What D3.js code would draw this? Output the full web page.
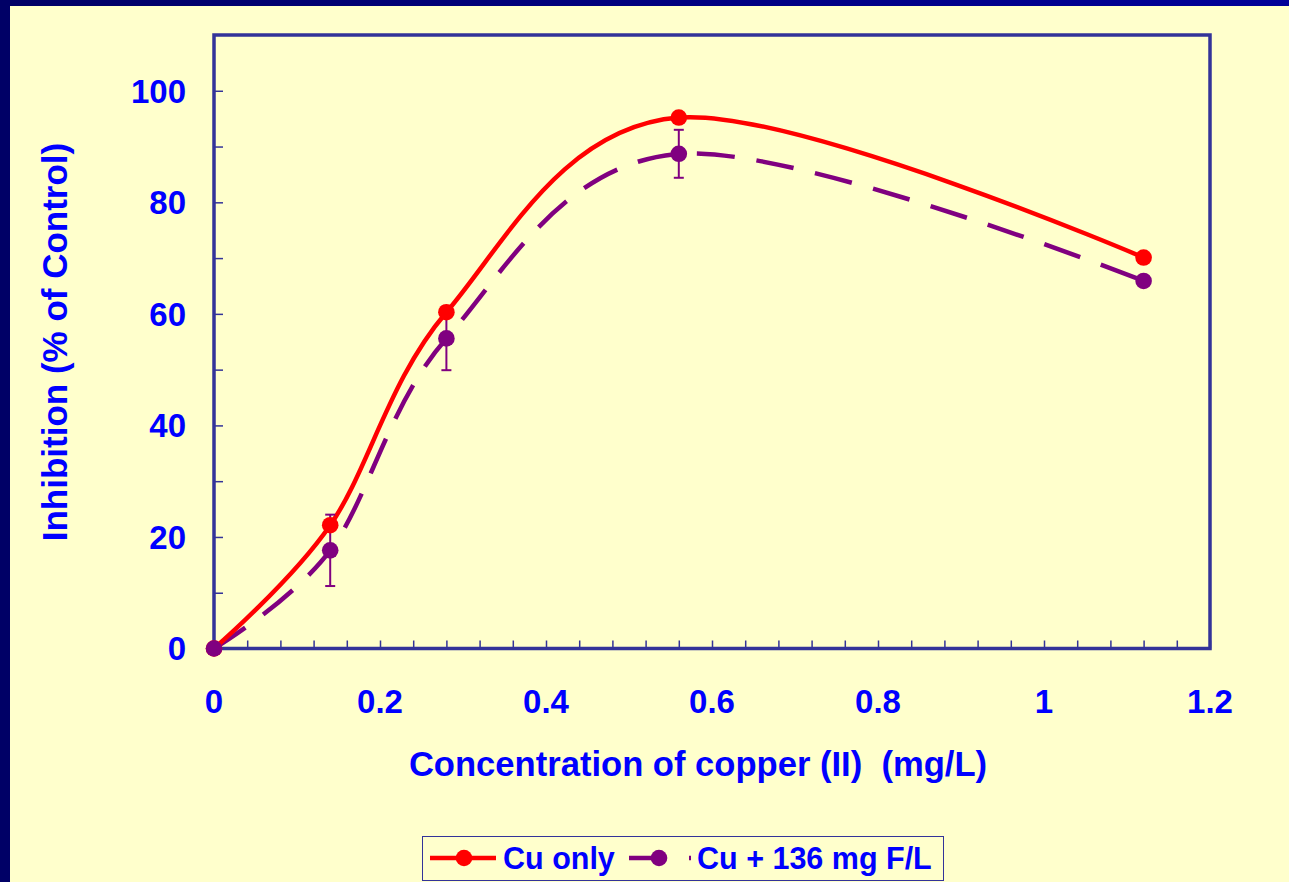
<!DOCTYPE html>
<html>
<head>
<meta charset="utf-8">
<script src="https://cdn.jsdelivr.net/npm/d3@7"></script>
<style>
  body { margin: 0; background: #ffffcc; }
  svg { display: block; font-family: "Liberation Sans", Arial, sans-serif; font-weight: bold; }
  text { white-space: pre; }
</style>
</head>
<body>
<svg id="chart"></svg>
<script>
// data
const concentrations = [0, 0.14, 0.28, 0.56, 1.12];
const cuOnly = [0, 22.1, 60.3, 95.2, 70.1];
const cuFluoride = [0, 17.6, 55.6, 88.7, 65.9];
const cuFluorideErr = [0, 6.4, 5.7, 4.3, 0];
const seriesNames = ["Cu only", "Cu + 136 mg F/L"];
const xTicks = [0, 0.2, 0.4, 0.6, 0.8, 1, 1.2];
const yTicks = [0, 20, 40, 60, 80, 100];

const width = 1289;
const height = 882;
const margin = { top: 35, right: 79, bottom: 233.5, left: 214 };
const textBlue = "#0000ff";
const frameColor = "#333399";

const svg = d3.select("#chart")
  .attr("width", width)
  .attr("height", height);

// background + navy border
svg.append("rect").attr("width", width).attr("height", height).attr("fill", "#ffffcc");
const grad = svg.append("defs").append("linearGradient").attr("id", "topGrad");
grad.append("stop").attr("offset", "0%").attr("stop-color", "#000066");
grad.append("stop").attr("offset", "100%").attr("stop-color", "#000099");
svg.append("rect").attr("x", 0).attr("y", 0).attr("width", width).attr("height", 6).attr("fill", "url(#topGrad)");
svg.append("rect").attr("x", 0).attr("y", 0).attr("width", 10).attr("height", height).attr("fill", "#000066");

const x = d3.scaleLinear()
  .domain([0, 1.2])
  .range([margin.left, width - margin.right]);

const y = d3.scaleLinear()
  .domain([0, 110])
  .range([height - margin.bottom, margin.top]);

// frame
svg.append("rect")
  .attr("x", x(0)).attr("y", y(110))
  .attr("width", x(1.2) - x(0)).attr("height", y(0) - y(110))
  .attr("fill", "none")
  .attr("stroke", frameColor)
  .attr("stroke-width", 3.5);

// ticks (inside)
const xAxis = svg.append("g")
  .attr("transform", `translate(0,${y(0)})`)
  .call(d3.axisTop(x).tickValues(d3.range(0, 1.2001, 0.04)).tickSize(8).tickFormat(""));
xAxis.select(".domain").remove();
xAxis.selectAll("line").attr("stroke", frameColor).attr("stroke-width", 1.5);

const yAxis = svg.append("g")
  .attr("transform", `translate(${x(0)},0)`)
  .call(d3.axisRight(y).tickValues(d3.range(0, 110, 10)).tickSize(9).tickFormat(""));
yAxis.select(".domain").remove();
yAxis.selectAll("line").attr("stroke", frameColor).attr("stroke-width", 1.5);

// tick labels
svg.append("g")
  .selectAll("text")
  .data(xTicks)
  .join("text")
  .attr("x", d => x(d))
  .attr("y", y(0) + 64)
  .attr("text-anchor", "middle")
  .attr("fill", textBlue)
  .style("font-size", "33px")
  .text(d => d);

svg.append("g")
  .selectAll("text")
  .data(yTicks)
  .join("text")
  .attr("x", x(0) - 28)
  .attr("y", d => y(d))
  .attr("dy", "0.36em")
  .attr("text-anchor", "end")
  .attr("fill", textBlue)
  .style("font-size", "33px")
  .text(d => d);

// axis titles
svg.append("text")
  .attr("x", 698)
  .attr("y", 776)
  .attr("text-anchor", "middle")
  .attr("fill", textBlue)
  .style("font-size", "34.6px")
  .text("Concentration of copper (II)  (mg/L)");

svg.append("text")
  .attr("transform", `translate(67,342) rotate(-90)`)
  .attr("text-anchor", "middle")
  .attr("fill", textBlue)
  .style("font-size", "35px")
  .text("Inhibition (% of Control)");

// lines
const line = d3.line()
  .x(d => x(d[0]))
  .y(d => y(d[1]))
  .curve(d3.curveCardinal.tension(0));

const redPts = concentrations.map((c, i) => [c, cuOnly[i]]);
const purplePts = concentrations.map((c, i) => [c, cuFluoride[i]]);

svg.append("path")
  .datum(purplePts)
  .attr("d", line)
  .attr("fill", "none")
  .attr("stroke", "#800080")
  .attr("stroke-width", 4.5)
  .attr("stroke-dasharray", "38,22");

svg.append("path")
  .datum(redPts)
  .attr("d", line)
  .attr("fill", "none")
  .attr("stroke", "#ff0000")
  .attr("stroke-width", 4.5);

// error bars
const errData = concentrations.map((c, i) => ({ c, v: cuFluoride[i], e: cuFluorideErr[i] })).filter(d => d.e > 0);
const eb = svg.append("g").attr("stroke", "#800080").attr("stroke-width", 2);
eb.selectAll(".v").data(errData).join("line")
  .attr("x1", d => x(d.c)).attr("x2", d => x(d.c))
  .attr("y1", d => y(d.v - d.e)).attr("y2", d => y(d.v + d.e));
eb.selectAll(".top").data(errData).join("line")
  .attr("x1", d => x(d.c) - 5).attr("x2", d => x(d.c) + 5)
  .attr("y1", d => y(d.v + d.e)).attr("y2", d => y(d.v + d.e));
eb.selectAll(".bot").data(errData).join("line")
  .attr("x1", d => x(d.c) - 5).attr("x2", d => x(d.c) + 5)
  .attr("y1", d => y(d.v - d.e)).attr("y2", d => y(d.v - d.e));

// markers
svg.append("g").selectAll("circle").data(redPts).join("circle")
  .attr("cx", d => x(d[0])).attr("cy", d => y(d[1])).attr("r", 8.3).attr("fill", "#ff0000");
svg.append("g").selectAll("circle").data(purplePts).join("circle")
  .attr("cx", d => x(d[0])).attr("cy", d => y(d[1])).attr("r", 8.3).attr("fill", "#800080");

// legend
const legend = svg.append("g");
legend.append("rect")
  .attr("x", 422.5).attr("y", 836.5).attr("width", 521).attr("height", 44)
  .attr("fill", "#ffffcc").attr("stroke", frameColor).attr("stroke-width", 1);

legend.append("line").attr("x1", 430).attr("x2", 496).attr("y1", 858).attr("y2", 858)
  .attr("stroke", "#ff0000").attr("stroke-width", 4.5);
legend.append("circle").attr("cx", 464).attr("cy", 858).attr("r", 8.3).attr("fill", "#ff0000");
legend.append("text").attr("x", 503).attr("y", 869).attr("fill", textBlue)
  .style("font-size", "30.5px").text(seriesNames[0]);

legend.append("line").attr("x1", 629).attr("x2", 691).attr("y1", 858).attr("y2", 858)
  .attr("stroke", "#800080").attr("stroke-width", 4.5).attr("stroke-dasharray", "26,34,2");
legend.append("circle").attr("cx", 659).attr("cy", 858).attr("r", 8.3).attr("fill", "#800080");
legend.append("text").attr("x", 697).attr("y", 869).attr("fill", textBlue)
  .style("font-size", "30.5px").text(seriesNames[1]);
</script>
</body>
</html>
